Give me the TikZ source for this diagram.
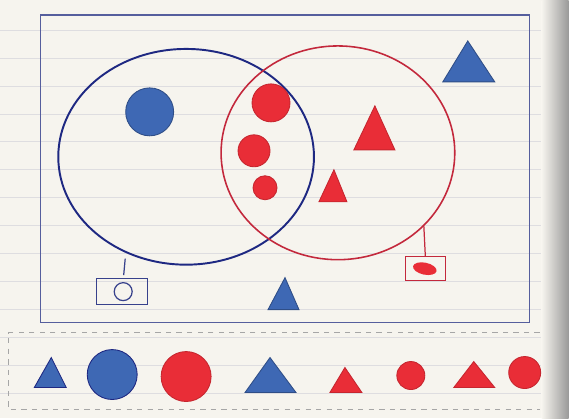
\documentclass[tikz,border=0pt]{standalone}
\usetikzlibrary{shapes.geometric, positioning}
\definecolor{paper}{RGB}{246,244,238}
\definecolor{ruleline}{RGB}{222,221,224}
\definecolor{penblue}{RGB}{55,65,140}
\definecolor{ringblue}{RGB}{30,40,130}
\definecolor{shapeblue}{RGB}{62,104,180}
\definecolor{shapered}{RGB}{233,45,55}
\definecolor{penred}{RGB}{195,40,60}

\begin{document}
\begin{tikzpicture}[
    x=0.02cm, y=-0.02cm,
    bluepiece/.style={
        fill=shapeblue,
        draw=shapeblue!75!black,
        line width=0.5pt
    },
    redpiece/.style={
        fill=shapered,
        draw=shapered!85!black,
        line width=0.5pt
    },
    bluering/.style={draw=ringblue, line width=1.1pt},
    redring/.style={draw=penred, line width=0.9pt},
    tag/.style={
        rectangle,
        inner sep=0pt,
        line width=0.7pt
    }
]

% Paper
\fill[paper] (0,0) rectangle (569,419);
\foreach \y in {30,58,...,410}
    \draw[ruleline, line width=0.4pt] (0,\y) -- (569,\y);
\shade[left color=paper, right color=gray!80] (542,0) rectangle (569,419);

% Universe frame
\draw[penblue!85, line width=0.8pt] (40,15) rectangle (530,323);

% Sets
\coordinate (blueset) at (186,157);
\coordinate (redset) at (338,153);
\draw[bluering] (blueset) ellipse[x radius=128, y radius=108];
\draw[redring] (redset) ellipse[x radius=117, y radius=107];

% Labels of the sets
\node[tag, draw=penblue, minimum width=1.02cm, minimum height=0.52cm] (bluetag) at (121.5,292) {};
\node[tag, draw=penred, minimum width=0.8cm, minimum height=0.48cm] (redtag) at (425.5,269) {};
\coordinate (bluetick) at (125,259);
\coordinate (redtick) at (424,226);
\draw[penblue, line width=0.7pt] (bluetick) -- ([xshift=0.04cm, yshift=0.06cm]bluetag.north);
\draw[penred, line width=0.7pt] (redtick) -- (redtag.north);
\draw[penblue, line width=0.7pt] (123,292) circle[radius=9];
\fill[shapered, rotate around={-12:(425,269)}] (425,269) ellipse[x radius=12, y radius=6];

% Pieces inside the frame
\filldraw[bluepiece] (149.5,112) circle[radius=24];
\filldraw[redpiece] (271,103) circle[radius=19];
\filldraw[redpiece] (254,151) circle[radius=16];
\filldraw[redpiece] (265,188) circle[radius=12];
\filldraw[redpiece] (354,150) -- (375,106) -- (395,150) -- cycle;
\filldraw[redpiece] (319,202) -- (334,170) -- (347,202) -- cycle;
\filldraw[bluepiece] (443,82) -- (468,41) -- (495,82) -- cycle;
\filldraw[bluepiece] (268,310) -- (285,278) -- (299,310) -- cycle;

% Strip of pieces below
\draw[gray!70, dashed, line width=0.6pt] (540,333) -- (8,333) -- (8,410) -- (540,410);
\filldraw[bluepiece, draw=ringblue] (34,388) -- (51,358) -- (66,388) -- cycle;
\filldraw[bluepiece, draw=ringblue] (112,375) circle[radius=25];
\filldraw[redpiece] (186,377) circle[radius=25];
\filldraw[bluepiece] (245,393) -- (270,358) -- (296,393) -- cycle;
\filldraw[redpiece] (330,393) -- (345,368) -- (362,393) -- cycle;
\filldraw[redpiece] (411,376) circle[radius=14];
\filldraw[redpiece] (454,388) -- (474,362) -- (495,388) -- cycle;
\filldraw[redpiece] (525,373) circle[radius=16];

\end{tikzpicture}
\end{document}
